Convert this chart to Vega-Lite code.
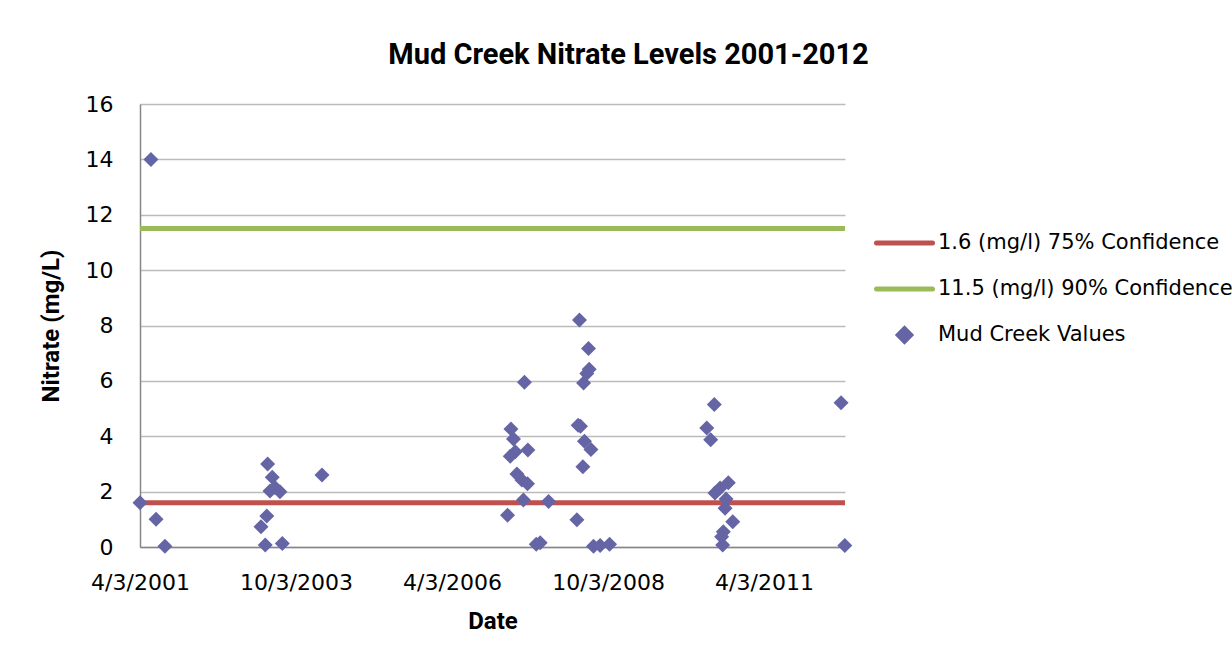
{
  "$schema": "https://vega.github.io/schema/vega-lite/v6.json",
  "width": 705,
  "height": 443,
  "autosize": {"type": "none"},
  "padding": {"left": 140, "top": 104, "right": 387, "bottom": 99},
  "background": "white",
  "title": {
    "text": "Mud Creek Nitrate Levels 2001-2012",
    "font": "Roboto",
    "fontSize": 29,
    "fontWeight": "bold",
    "color": "black",
    "anchor": "middle",
    "frame": "group",
    "baseline": "alphabetic",
    "dx": 136,
    "offset": 0
  },
  "layer": [
    {
      "data": {
        "values": [
          {"series": "1.6 (mg/l) 75% Confidence", "nitrate": 1.6},
          {"series": "11.5 (mg/l) 90% Confidence", "nitrate": 11.5}
        ]
      },
      "mark": {"type": "rule", "strokeWidth": 5},
      "encoding": {
        "y": {"field": "nitrate", "type": "quantitative"},
        "color": {"field": "series", "type": "nominal"}
      }
    },
    {
      "data": {
        "values": [
          {"date": "2001-04-03", "nitrate": 1.6, "series": "Mud Creek Values"},
          {"date": "2001-06-06", "nitrate": 14.0, "series": "Mud Creek Values"},
          {"date": "2001-07-06", "nitrate": 1.0, "series": "Mud Creek Values"},
          {"date": "2001-08-27", "nitrate": 0.03, "series": "Mud Creek Values"},
          {"date": "2003-03-12", "nitrate": 0.73, "series": "Mud Creek Values"},
          {"date": "2003-04-06", "nitrate": 0.07, "series": "Mud Creek Values"},
          {"date": "2003-04-15", "nitrate": 1.12, "series": "Mud Creek Values"},
          {"date": "2003-04-20", "nitrate": 3.0, "series": "Mud Creek Values"},
          {"date": "2003-05-04", "nitrate": 2.02, "series": "Mud Creek Values"},
          {"date": "2003-05-17", "nitrate": 2.52, "series": "Mud Creek Values"},
          {"date": "2003-06-02", "nitrate": 2.15, "series": "Mud Creek Values"},
          {"date": "2003-07-01", "nitrate": 2.0, "series": "Mud Creek Values"},
          {"date": "2003-07-15", "nitrate": 0.13, "series": "Mud Creek Values"},
          {"date": "2004-03-03", "nitrate": 2.6, "series": "Mud Creek Values"},
          {"date": "2007-02-22", "nitrate": 1.15, "series": "Mud Creek Values"},
          {"date": "2007-03-10", "nitrate": 3.28, "series": "Mud Creek Values"},
          {"date": "2007-03-14", "nitrate": 4.26, "series": "Mud Creek Values"},
          {"date": "2007-03-29", "nitrate": 3.9, "series": "Mud Creek Values"},
          {"date": "2007-04-08", "nitrate": 3.44, "series": "Mud Creek Values"},
          {"date": "2007-04-18", "nitrate": 2.64, "series": "Mud Creek Values"},
          {"date": "2007-05-17", "nitrate": 2.42, "series": "Mud Creek Values"},
          {"date": "2007-05-26", "nitrate": 1.7, "series": "Mud Creek Values"},
          {"date": "2007-06-01", "nitrate": 5.95, "series": "Mud Creek Values"},
          {"date": "2007-06-19", "nitrate": 2.28, "series": "Mud Creek Values"},
          {"date": "2007-06-21", "nitrate": 3.5, "series": "Mud Creek Values"},
          {"date": "2007-08-09", "nitrate": 0.1, "series": "Mud Creek Values"},
          {"date": "2007-09-01", "nitrate": 0.15, "series": "Mud Creek Values"},
          {"date": "2007-10-20", "nitrate": 1.64, "series": "Mud Creek Values"},
          {"date": "2008-04-03", "nitrate": 0.98, "series": "Mud Creek Values"},
          {"date": "2008-04-10", "nitrate": 4.4, "series": "Mud Creek Values"},
          {"date": "2008-04-18", "nitrate": 8.2, "series": "Mud Creek Values"},
          {"date": "2008-04-24", "nitrate": 4.36, "series": "Mud Creek Values"},
          {"date": "2008-05-08", "nitrate": 2.9, "series": "Mud Creek Values"},
          {"date": "2008-05-12", "nitrate": 5.92, "series": "Mud Creek Values"},
          {"date": "2008-05-17", "nitrate": 3.82, "series": "Mud Creek Values"},
          {"date": "2008-05-31", "nitrate": 6.27, "series": "Mud Creek Values"},
          {"date": "2008-06-10", "nitrate": 7.17, "series": "Mud Creek Values"},
          {"date": "2008-06-14", "nitrate": 6.42, "series": "Mud Creek Values"},
          {"date": "2008-06-24", "nitrate": 3.52, "series": "Mud Creek Values"},
          {"date": "2008-07-09", "nitrate": 0.03, "series": "Mud Creek Values"},
          {"date": "2008-08-17", "nitrate": 0.05, "series": "Mud Creek Values"},
          {"date": "2008-10-11", "nitrate": 0.1, "series": "Mud Creek Values"},
          {"date": "2010-05-03", "nitrate": 4.3, "series": "Mud Creek Values"},
          {"date": "2010-05-26", "nitrate": 3.87, "series": "Mud Creek Values"},
          {"date": "2010-06-16", "nitrate": 5.15, "series": "Mud Creek Values"},
          {"date": "2010-06-20", "nitrate": 1.95, "series": "Mud Creek Values"},
          {"date": "2010-07-20", "nitrate": 2.13, "series": "Mud Creek Values"},
          {"date": "2010-07-29", "nitrate": 0.37, "series": "Mud Creek Values"},
          {"date": "2010-08-04", "nitrate": 0.07, "series": "Mud Creek Values"},
          {"date": "2010-08-08", "nitrate": 0.55, "series": "Mud Creek Values"},
          {"date": "2010-08-18", "nitrate": 1.4, "series": "Mud Creek Values"},
          {"date": "2010-08-24", "nitrate": 1.73, "series": "Mud Creek Values"},
          {"date": "2010-09-06", "nitrate": 2.32, "series": "Mud Creek Values"},
          {"date": "2010-10-02", "nitrate": 0.91, "series": "Mud Creek Values"},
          {"date": "2012-06-27", "nitrate": 5.21, "series": "Mud Creek Values"},
          {"date": "2012-07-19", "nitrate": 0.05, "series": "Mud Creek Values"}
        ]
      },
      "mark": {"type": "point", "shape": "diamond", "filled": true, "size": 225, "opacity": 1, "strokeWidth": 0},
      "encoding": {
        "x": {
          "field": "date",
          "type": "temporal",
          "title": "Date",
          "scale": {
            "type": "utc",
            "domain": [
              {"year": 2001, "month": 4, "date": 3, "utc": true},
              {"year": 2012, "month": 7, "date": 20, "utc": true}
            ]
          },
          "axis": {
            "values": [
              {"year": 2001, "month": 4, "date": 3, "utc": true},
              {"year": 2003, "month": 10, "date": 3, "utc": true},
              {"year": 2006, "month": 4, "date": 3, "utc": true},
              {"year": 2008, "month": 10, "date": 3, "utc": true},
              {"year": 2011, "month": 4, "date": 3, "utc": true}
            ],
            "labelExpr": "utcFormat(datum.value, '%-m/%-d/%Y')",
            "grid": false,
            "labelPadding": 25,
            "titlePadding": 16,
            "labelFlush": false,
            "labelOverlap": false
          }
        },
        "y": {
          "field": "nitrate",
          "type": "quantitative",
          "title": "Nitrate (mg/L)",
          "scale": {"domain": [0, 16], "nice": false, "zero": true},
          "axis": {
            "values": [0, 2, 4, 6, 8, 10, 12, 14, 16],
            "grid": true,
            "labelPadding": 27,
            "titlePadding": 22
          }
        },
        "color": {
          "field": "series",
          "type": "nominal",
          "scale": {
            "domain": ["1.6 (mg/l) 75% Confidence", "11.5 (mg/l) 90% Confidence", "Mud Creek Values"],
            "range": ["#C0504D", "#9BBB59", "#6565A6"]
          },
          "legend": {
            "title": null,
            "orient": "none",
            "legendX": 734,
            "legendY": 116,
            "padding": 0,
            "symbolType": "stroke",
            "symbolSize": 3136,
            "symbolStrokeWidth": 5,
            "symbolOpacity": 1,
            "clipHeight": 46,
            "rowPadding": 0,
            "labelOffset": 3,
            "labelFont": "DejaVu Sans",
            "labelFontSize": 21,
            "labelColor": "black",
            "labelLimit": 0,
            "encode": {
              "symbols": {
                "update": {
                  "shape": {"signal": "datum.value == 'Mud Creek Values' ? 'M0,-0.22L0.22,0L0,0.22L-0.22,0Z' : 'stroke'"},
                  "fill": {"scale": "color", "field": "value"},
                  "stroke": {"signal": "datum.value == 'Mud Creek Values' ? 'transparent' : scale('color', datum.value)"},
                  "strokeCap": {"value": "round"},
                  "opacity": {"value": 1}
                }
              }
            }
          }
        }
      }
    }
  ],
  "config": {
    "view": {"stroke": null},
    "axis": {
      "labelFont": "DejaVu Sans",
      "labelFontSize": 22,
      "labelColor": "black",
      "titleFont": "Roboto",
      "titleFontSize": 24,
      "titleFontWeight": "bold",
      "titleColor": "black",
      "ticks": false,
      "tickSize": 0,
      "domainColor": "#868686",
      "domainWidth": 1.5,
      "gridColor": "#BBBBBB",
      "gridWidth": 1.5
    }
  }
}
